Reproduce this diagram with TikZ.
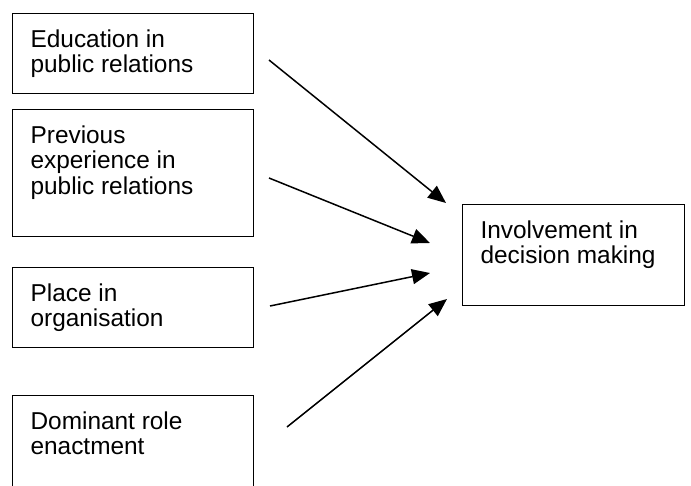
\documentclass[tikz,border=0pt]{standalone}
\usepackage{fontspec}
\setmainfont{Liberation Sans}
\usetikzlibrary{arrows.meta,positioning}

\newcommand{\boxtxt}[3]{\parbox[t][#1][t]{#2}{#3}}

\begin{document}
\begin{tikzpicture}[
  x=1pt, y=-1pt,
  every node/.style={font=\fontsize{24.4}{25.5}\selectfont},
  factor/.style={draw=black, line width=1.2pt, rectangle, anchor=north west,
                 inner xsep=18pt, inner ysep=16pt, align=left},
  arr/.style={-{Triangle[length=18pt, width=15pt]}, line width=1.5pt, draw=black}
]
  \useasboundingbox (0,0) rectangle (691,485);

  % Left column: the four factors
  \node[factor] (edu) at (12, 13)
    {\boxtxt{48pt}{205pt}{Education in\\public relations}};
  \node[factor] (prev) at (12, 109)
    {\boxtxt{95pt}{205pt}{Previous\\experience in\\public relations}};
  \node[factor] (place) at (12, 267)
    {\boxtxt{48pt}{205pt}{Place in\\organisation}};
  \node[factor] (role) at (12, 395)
    {\boxtxt{80pt}{205pt}{Dominant role\\enactment}};

  % Outcome
  \node[factor] (inv) at (462, 204)
    {\boxtxt{69pt}{186pt}{Involvement in\\decision making}};

  % Arrow ends
  \coordinate (edu-out)   at (269, 60);
  \coordinate (prev-out)  at (269, 178);
  \coordinate (place-out) at (270, 306);
  \coordinate (role-out)  at (287, 427);
  \coordinate (inv-a) at (446, 203);
  \coordinate (inv-b) at (430, 243);
  \coordinate (inv-c) at (430, 273);
  \coordinate (inv-d) at (447, 299);

  \draw[arr] (edu-out)   -- (inv-a);
  \draw[arr] (prev-out)  -- (inv-b);
  \draw[arr] (place-out) -- (inv-c);
  \draw[arr] (role-out)  -- (inv-d);

\end{tikzpicture}
\end{document}
